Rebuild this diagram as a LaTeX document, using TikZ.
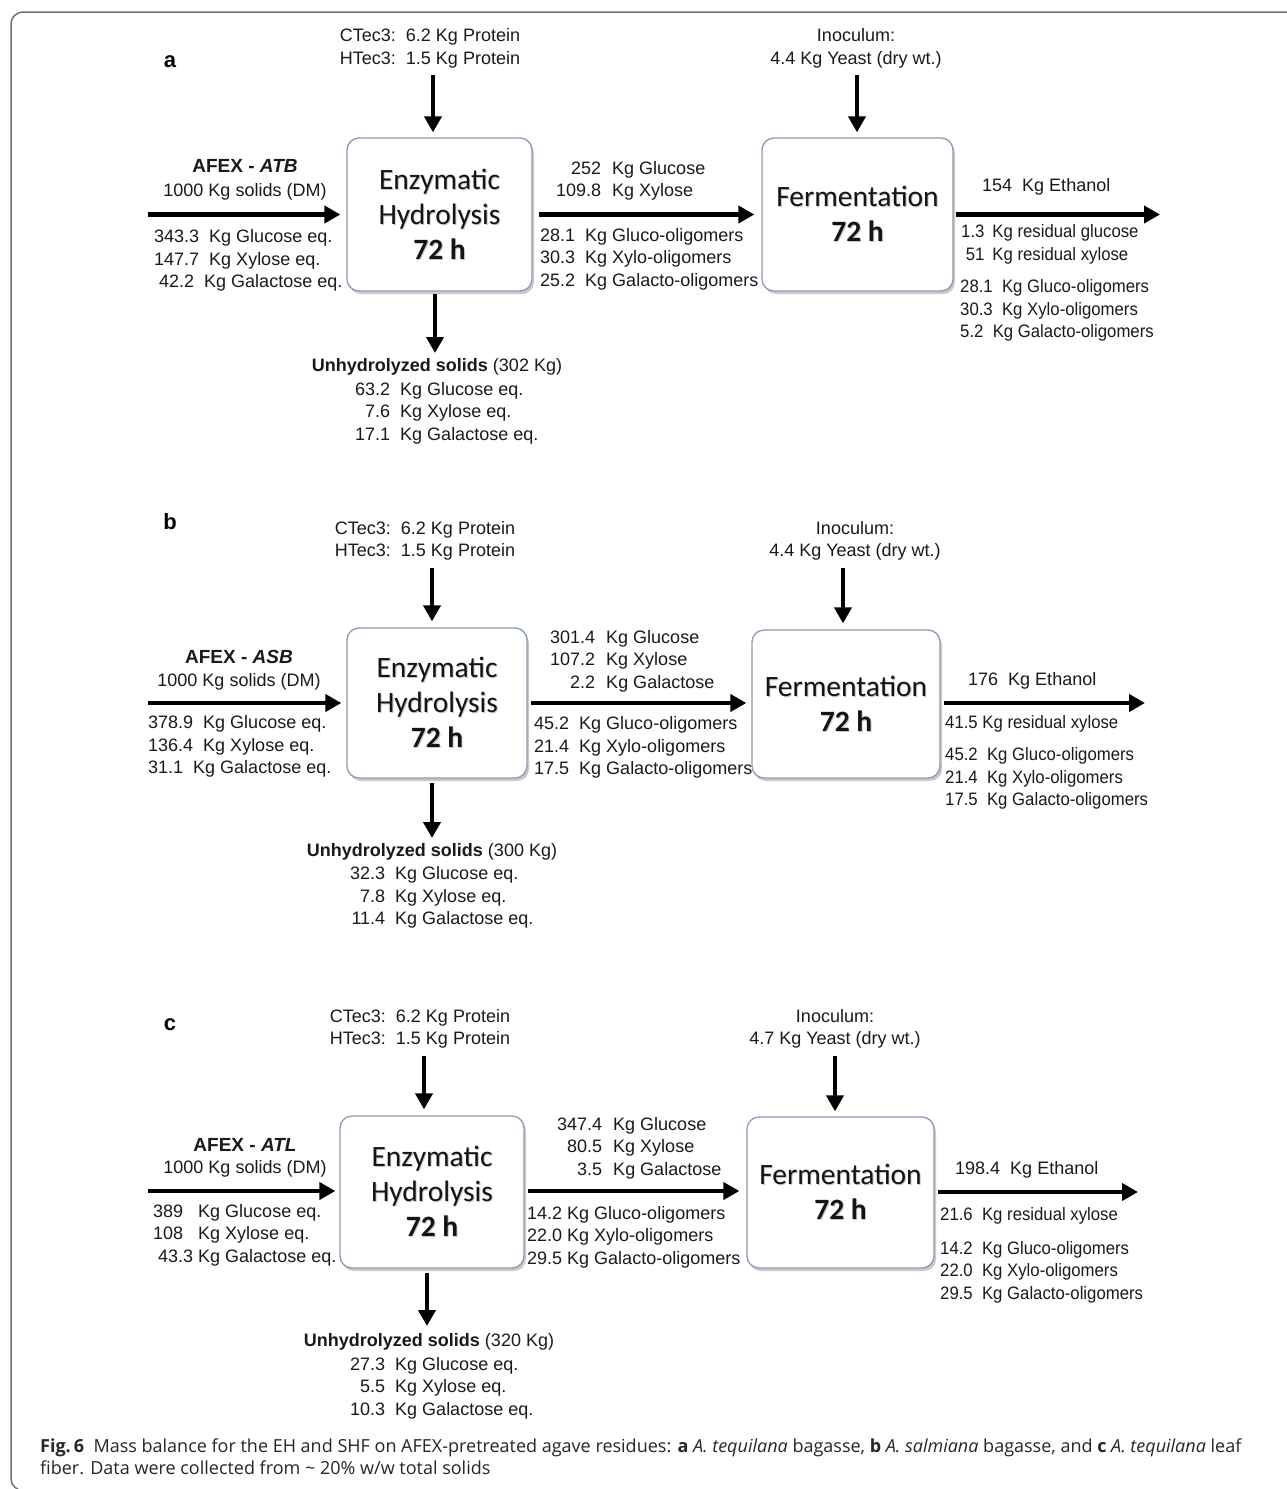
\documentclass[tikz,border=0pt]{standalone}
\usepackage{fontspec}
\setmainfont{Liberation Sans}
\newfontfamily\narrowfont[FakeStretch=0.93]{Liberation Sans}
\newfontfamily\boxfont{Carlito}
\newfontfamily\capfont{Open Sans}
\usetikzlibrary{arrows.meta,shadows}
\definecolor{boxline}{HTML}{8A9BB5}
\definecolor{txt}{HTML}{1A1A1A}
\definecolor{framec}{HTML}{707070}
\tikzset{
 lbl/.style={font=\fontsize{18}{22.5}\selectfont, text=txt, inner sep=0pt, align=left},
 lblc/.style={lbl, align=center},
 nar/.style={font=\narrowfont\fontsize{18}{22.5}\selectfont, text=txt, inner sep=0pt, align=left},
 afex/.style={font=\bfseries\fontsize{19}{22}\selectfont, text=txt, inner sep=0pt},
 panel/.style={font=\bfseries\fontsize{22}{26}\selectfont, inner sep=0pt},
 procbox/.style={draw=boxline, line width=1.3pt, rounded corners=12pt, fill=white,
   drop shadow={shadow xshift=2pt, shadow yshift=-3pt, opacity=0.35, fill=black!60},
   font=\boxfont\fontsize{29.5}{35}\selectfont, text=black!92, align=center, inner sep=0pt},
 arr/.style={line width=4.5pt, -{Triangle[length=16pt,width=17pt]}},
 capt/.style={font=\capfont\fontsize{18}{21.5}\selectfont, text=black!85, inner sep=0pt, align=left},
}
\newcommand\tabrl[2]{\begin{tabular}{@{}r@{\hspace{#1}}l@{}}#2\end{tabular}}
\newcommand\shd[1]{\leavevmode\rlap{\kern1pt\raisebox{-1.2pt}{\textcolor{black!22}{#1}}}#1}
\begin{document}
\begin{tikzpicture}[x=1pt,y=-1pt]
\useasboundingbox (0,0) rectangle (1287,1489);
\fill[white] (0,0) rectangle (1287,1489);
\draw[framec, line width=1.5pt, rounded corners=12pt] (1300,12) -- (11,12) -- (11,1490.5) -- (1300,1490.5);

% ================= panel a =================
\node[panel] (pa) at (170,62) {a};
\node[lbl] (enzA) at (430,48.5) {CTec3:\ \ 6.2 Kg Protein\\HTec3:\ \ 1.5 Kg Protein};
\node[lblc] (inocA) at (856,48.5) {Inoculum:\\4.4 Kg Yeast (dry wt.)};
\node[procbox, minimum width=185pt, minimum height=153pt] (EHa) at (439.5,214.5) {\shd{Enzymatic}\\\shd{Hydrolysis}\\\shd{\textbf{72 h}}};
\node[procbox, minimum width=191pt, minimum height=153pt] (Fa) at (857.5,214.5) {\shd{Fermentation}\\\shd{\textbf{72 h}}};
\node[afex] (afexA) at (245,166) {AFEX - \textit{ATB}};
\node[lbl] (dmA) at (245,192) {1000 Kg solids (DM)};
\node[lbl, anchor=west] (inA) at (154,260.5) {343.3\ \ Kg Glucose eq.\\147.7\ \ Kg Xylose eq.\\\hspace{5pt}42.2\ \ Kg Galactose eq.};
\node[lbl, anchor=west] (hydA) at (556,181) {\tabrl{11pt}{252 & Kg Glucose\\109.8 & Kg Xylose}};
\node[lbl, anchor=west] (oliA) at (540,259) {28.1\ \ Kg Gluco-oligomers\\30.3\ \ Kg Xylo-oligomers\\25.2\ \ Kg Galacto-oligomers};
\node[lbl, anchor=west] (ethA) at (982,187) {154\ \ Kg Ethanol};
\node[nar, anchor=west] (resA) at (961,244.5) {\tabrl{8pt}{1.3 & Kg residual glucose\\51 & Kg residual xylose}};
\node[nar, anchor=west] (outA) at (960,310.5) {28.1\ \ Kg Gluco-oligomers\\30.3\ \ Kg Xylo-oligomers\\5.2\ \ Kg Galacto-oligomers};
\node[lbl] (unhA) at (437,367) {\textbf{Unhydrolyzed solids} (302 Kg)};
\node[lbl, anchor=west] (remA) at (355,413) {\tabrl{10pt}{63.2 & Kg Glucose eq.\\7.6 & Kg Xylose eq.\\17.1 & Kg Galactose eq.}};
\coordinate (sA) at (148,214.5);
\coordinate (eA) at (1160,214.5);
\coordinate (tA1) at (433,75);
\coordinate (tA2) at (857,75);
\coordinate (dA) at (435,353);
\draw[arr, shorten >=6pt] (sA) -- (EHa.west);
\draw[arr, shorten <=6pt, shorten >=7pt] (EHa) -- (Fa);
\draw[arr, shorten <=2pt] (Fa) -- (eA);
\draw[arr, shorten >=5pt] (tA1) -- (tA1 |- EHa.north);
\draw[arr, shorten >=5pt] (tA2) -- (tA2 |- Fa.north);
\draw[arr, shorten <=2pt] (dA |- EHa.south) -- (dA);

% ================= panel b =================
\node[panel] (pb) at (170,522) {b};
\node[lbl] (enzB) at (425,541) {CTec3:\ \ 6.2 Kg Protein\\HTec3:\ \ 1.5 Kg Protein};
\node[lblc] (inocB) at (855,541) {Inoculum:\\4.4 Kg Yeast (dry wt.)};
\node[procbox, minimum width=180pt, minimum height=150pt] (EHb) at (437,703) {\shd{Enzymatic}\\\shd{Hydrolysis}\\\shd{\textbf{72 h}}};
\node[procbox, minimum width=188pt, minimum height=148pt] (Fb) at (846,704) {\shd{Fermentation}\\\shd{\textbf{72 h}}};
\node[afex] (afexB) at (239,657) {AFEX - \textit{ASB}};
\node[lbl] (dmB) at (239,682) {1000 Kg solids (DM)};
\node[lbl, anchor=west] (inB) at (148,746.5) {378.9\ \ Kg Glucose eq.\\136.4\ \ Kg Xylose eq.\\31.1\ \ Kg Galactose eq.};
\node[lbl, anchor=west] (hydB) at (550,661) {\tabrl{11pt}{301.4 & Kg Glucose\\107.2 & Kg Xylose\\2.2 & Kg Galactose}};
\node[lbl, anchor=west] (oliB) at (534,747.5) {45.2\ \ Kg Gluco-oligomers\\21.4\ \ Kg Xylo-oligomers\\17.5\ \ Kg Galacto-oligomers};
\node[lbl, anchor=west] (ethB) at (968,681) {176\ \ Kg Ethanol};
\node[nar, anchor=west] (resB) at (945,724) {41.5 Kg residual xylose};
\node[nar, anchor=west] (outB) at (945,778.5) {45.2\ \ Kg Gluco-oligomers\\21.4\ \ Kg Xylo-oligomers\\17.5\ \ Kg Galacto-oligomers};
\node[lbl] (unhB) at (432,852) {\textbf{Unhydrolyzed solids} (300 Kg)};
\node[lbl, anchor=west] (remB) at (350,897.5) {\tabrl{10pt}{32.3 & Kg Glucose eq.\\7.8 & Kg Xylose eq.\\11.4 & Kg Galactose eq.}};
\coordinate (sB) at (148,703);
\coordinate (eB) at (1145,703);
\coordinate (tB1) at (432,568);
\coordinate (tB2) at (843,568);
\coordinate (dB) at (432,838);
\draw[arr, shorten >=5pt] (sB) -- (sB -| EHb.west);
\draw[arr, shorten <=3pt, shorten >=5pt] (EHb.east |- sB) -- (Fb.west |- sB);
\draw[arr, shorten <=3pt] (Fb.east |- eB) -- (eB);
\draw[arr, shorten >=6pt] (tB1) -- (tB1 |- EHb.north);
\draw[arr, shorten >=6pt] (tB2) -- (tB2 |- Fb.north);
\draw[arr, shorten <=4pt] (dB |- EHb.south) -- (dB);

% ================= panel c =================
\node[panel] (pc) at (170,1025) {c};
\node[lbl] (enzC) at (420,1029) {CTec3:\ \ 6.2 Kg Protein\\HTec3:\ \ 1.5 Kg Protein};
\node[lblc] (inocC) at (835,1029) {Inoculum:\\4.7 Kg Yeast (dry wt.)};
\node[procbox, minimum width=184pt, minimum height=152pt] (EHc) at (432,1192) {\shd{Enzymatic}\\\shd{Hydrolysis}\\\shd{\textbf{72 h}}};
\node[procbox, minimum width=187pt, minimum height=151pt] (Fc) at (840.5,1192.5) {\shd{Fermentation}\\\shd{\textbf{72 h}}};
\node[afex] (afexC) at (245,1145) {AFEX - \textit{ATL}};
\node[lbl] (dmC) at (245,1169) {1000 Kg solids (DM)};
\node[lbl, anchor=west] (inC) at (153,1235) {389\ \ \ Kg Glucose eq.\\108\ \ \ Kg Xylose eq.\\\hspace{5pt}43.3 Kg Galactose eq.};
\node[lbl, anchor=west] (hydC) at (557,1148) {\tabrl{11pt}{347.4 & Kg Glucose\\80.5 & Kg Xylose\\3.5 & Kg Galactose}};
\node[lbl, anchor=west] (oliC) at (527,1237) {14.2 Kg Gluco-oligomers\\22.0 Kg Xylo-oligomers\\29.5 Kg Galacto-oligomers};
\node[lbl, anchor=west] (ethC) at (955,1170) {198.4\ \ Kg Ethanol};
\node[nar, anchor=west] (resC) at (940,1216) {21.6\ \ Kg residual xylose};
\node[nar, anchor=west] (outC) at (940,1272) {14.2\ \ Kg Gluco-oligomers\\22.0\ \ Kg Xylo-oligomers\\29.5\ \ Kg Galacto-oligomers};
\node[lbl] (unhC) at (429,1342) {\textbf{Unhydrolyzed solids} (320 Kg)};
\node[lbl, anchor=west] (remC) at (350,1388) {\tabrl{10pt}{27.3 & Kg Glucose eq.\\5.5 & Kg Xylose eq.\\10.3 & Kg Galactose eq.}};
\coordinate (sC) at (148,1191);
\coordinate (eC) at (1138,1192);
\coordinate (tC1) at (424,1056);
\coordinate (tC2) at (835,1056);
\coordinate (dC) at (427,1326);
\draw[arr, shorten >=4pt] (sC) -- (sC -| EHc.west);
\draw[arr, shorten <=3pt, shorten >=7pt] (EHc.east |- sC) -- (Fc.west |- sC);
\draw[arr, shorten <=3pt] (Fc.east |- eC) -- (eC);
\draw[arr, shorten >=6pt] (tC1) -- (tC1 |- EHc.north);
\draw[arr, shorten >=5pt] (tC2) -- (tC2 |- Fc.north);
\draw[arr, shorten <=4pt] (dC |- EHc.south) -- (dC);

% ================= caption =================
\node[capt, anchor=north west] (cap) at (40,1439) {{\bfseries Fig.\,6}\ \ Mass balance for the EH and SHF on AFEX-pretreated agave residues: {\bfseries a} {\itshape A. tequilana} bagasse, {\bfseries b} {\itshape A. salmiana} bagasse, and {\bfseries c} {\itshape A. tequilana} leaf\\fiber. Data were collected from \textasciitilde{} 20\% w/w total solids};
\end{tikzpicture}
\end{document}
